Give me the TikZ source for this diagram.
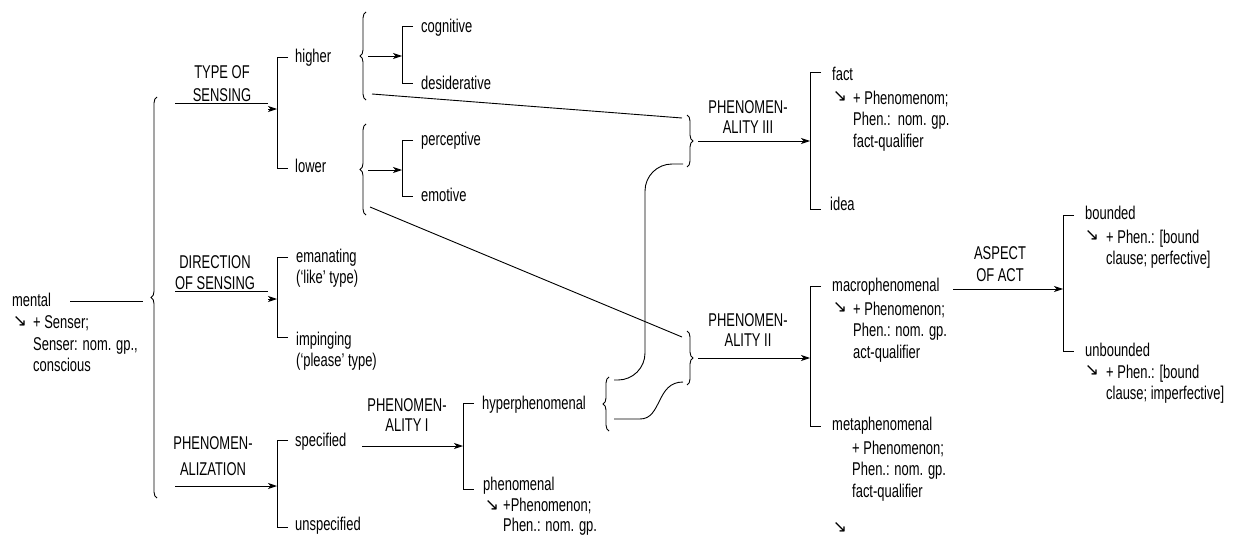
\documentclass[tikz,border=0pt]{standalone}
\usepackage{fontspec}
\setmainfont[FakeStretch=0.7]{Liberation Sans}
\newfontfamily\symfont{DejaVu Sans}
\usetikzlibrary{arrows.meta,decorations.pathreplacing}
\newcommand\fsz{\fontsize{18.5}{21.5}\selectfont}
\tikzset{
 txt/.style={inner sep=0pt, anchor=base west, font=\fsz},
 blk/.style={inner sep=0pt, anchor=north west, align=left, font=\fsz},
 sysn/.style={inner sep=0pt, align=center, font=\fsz},
 ln/.style={line width=0.9pt},
 arr/.style={ln, -{Stealth[length=9pt,width=6pt,inset=2.5pt]}},
 brc/.style={ln, decorate, decoration={brace, amplitude=6pt}},
 sym/.style={inner sep=0pt, font=\symfont\fontsize{17}{17}\selectfont},
 brk/.style={ln},
}
\begin{document}
\begin{tikzpicture}[x=1pt,y=-1pt]
\useasboundingbox (0,0) rectangle (1249,535);

% ---------- texts ----------
\node[txt] (mental) at (12,306.5) {mental};
\node[sym] (amental) at (20,322) {↘};
\node[blk] (mentalsub) at (33,315.5) {+ Senser;\\Senser: nom. gp.,\\conscious};

\node[sysn] (typeof) at (222,83.5) {TYPE OF\\[1.5pt]SENSING};
\node[sysn] (dirsens) at (215,272.5) {DIRECTION\\OF SENSING};
\node[sysn] (phenzn) at (213,456.5) {PHENOMEN-\\[4.5pt]ALIZATION};

\node[txt] (higher) at (295,62.5) {higher};
\node[txt] (lower) at (295,172.5) {lower};
\node[blk] (eman) at (296,248.5) {emanating\\(‘like’ type)};
\node[blk] (imping) at (296,331.5) {impinging\\(‘please’ type)};
\node[txt] (spec) at (295,446.5) {specified};
\node[txt] (unspec) at (295,530.5) {unspecified};

\node[txt] (cog) at (421,32.5) {cognitive};
\node[txt] (desid) at (421,89.5) {desiderative};
\node[txt] (percep) at (421,145.5) {perceptive};
\node[txt] (emot) at (421,201.5) {emotive};

\node[sysn] (ph3) at (748,117) {PHENOMEN-\\[-1.5pt]ALITY III};
\node[txt] (fact) at (832,80.5) {fact};
\node[sym] (afact) at (840,97) {↘};
\node[blk] (factsub) at (853,90.5) {+ Phenomenom;\\Phen.:\ \ nom. gp.\\fact-qualifier};
\node[txt] (idea) at (830,210.5) {idea};

\node[sysn] (ph2) at (748,330) {PHENOMEN-\\[-1.5pt]ALITY II};
\node[txt] (macro) at (832,291.5) {macrophenomenal};
\node[sym] (amacro) at (840,308) {↘};
\node[blk] (macrosub) at (853,301.5) {+ Phenomenon;\\Phen.: nom. gp.\\act-qualifier};
\node[txt] (meta) at (832,430.5) {metaphenomenal};
\node[blk] (metasub) at (852,440.5) {+ Phenomenon;\\Phen.: nom. gp.\\fact-qualifier};
\node[sym] (astray) at (840,527) {↘};

\node[sysn] (ph1) at (407,415) {PHENOMEN-\\[-1.5pt]ALITY I};
\node[txt] (hyper) at (482,409.5) {hyperphenomenal};
\node[txt] (phenl) at (483,490.5) {phenomenal};
\node[sym] (aphen) at (492,506) {↘};
\node[blk] (phensub) at (503,497.5) {+Phenomenon;\\[-1pt]Phen.: nom. gp.};

\node[sysn] (aspect) at (1000,264) {ASPECT\\OF ACT};
\node[txt] (bounded) at (1085,219.5) {bounded};
\node[sym] (abound) at (1092,236) {↘};
\node[blk] (boundsub) at (1106,229.5) {+ Phen.: [bound\\clause; perfective]};
\node[txt] (unbounded) at (1085,356.5) {unbounded};
\node[sym] (aunbound) at (1092,371) {↘};
\node[blk] (unboundsub) at (1106,364.5) {+ Phen.: [bound\\clause; imperfective]};

% ---------- coordinates ----------
\coordinate (m0) at (70,301);
\coordinate (m1) at (143,301);
\coordinate (mbB) at (157,498);
\coordinate (mbT) at (157,97);

\coordinate (t0) at (175,103); \coordinate (t1) at (268,103);
\coordinate (t2) at (268,109); \coordinate (t3) at (277,109);
\coordinate (d0) at (175,291); \coordinate (d1) at (268,291);
\coordinate (d2) at (268,299); \coordinate (d3) at (277,299);
\coordinate (p0) at (175,486); \coordinate (p1) at (277,486);

\coordinate (b1a) at (277,57);  \coordinate (b1b) at (277,168);
\coordinate (b2a) at (277,257); \coordinate (b2b) at (277,337);
\coordinate (b3a) at (277,440); \coordinate (b3b) at (277,527);

\coordinate (hbB) at (366,100); \coordinate (hbT) at (366,12);
\coordinate (lbB) at (366,215); \coordinate (lbT) at (366,124);
\coordinate (h0) at (368,56); \coordinate (h1) at (402,56);
\coordinate (l0) at (368,170); \coordinate (l1) at (402,170);
\coordinate (b4a) at (402,26);  \coordinate (b4b) at (402,83);
\coordinate (b5a) at (402,140); \coordinate (b5b) at (402,196);

\coordinate (hx) at (372,94);  \coordinate (p3t) at (682,118);
\coordinate (lx) at (370,207); \coordinate (p2t) at (682,337);

\coordinate (p3bT) at (687,115); \coordinate (p3bB) at (687,167);
\coordinate (a30) at (698,141); \coordinate (a31) at (810,141);
\coordinate (b6a) at (810,72); \coordinate (b6b) at (810,209);

\coordinate (p2bT) at (687,331); \coordinate (p2bB) at (687,385);
\coordinate (a20) at (698,358); \coordinate (a21) at (810,358);
\coordinate (b7a) at (810,286); \coordinate (b7b) at (810,426);

\coordinate (a10) at (362,446); \coordinate (a11) at (463,446);
\coordinate (b8a) at (463,403); \coordinate (b8b) at (463,489);
\coordinate (ybB) at (609,431); \coordinate (ybT) at (609,377);

\coordinate (c1s) at (614,380); \coordinate (c1m) at (645,380);
\coordinate (c1n) at (645,164); \coordinate (c1e) at (683,164);
\coordinate (c2s) at (614,419); \coordinate (c2m) at (640,419);
\coordinate (c2e) at (683,382);

\coordinate (as0) at (953,289); \coordinate (as1) at (1063,289);
\coordinate (b9a) at (1063,215); \coordinate (b9b) at (1063,351);

% ---------- lines ----------
\draw[ln] (m0) -- (m1);
\draw[brc] (mbB) -- (mbT);

\draw[ln] (t0) -- (t1); \draw[arr] (t2) -- (t3);
\draw[ln] (d0) -- (d1); \draw[arr] (d2) -- (d3);
\draw[arr] (p0) -- (p1);

\foreach \a/\b in {b1a/b1b,b2a/b2b,b3a/b3b,b4a/b4b,b5a/b5b,b6a/b6b,b7a/b7b,b8a/b8b,b9a/b9b}
  \draw[brk] ([xshift=11pt]\a) -- (\a) -- (\b) -- ([xshift=11pt]\b);

\draw[brc] (hbB) -- (hbT);
\draw[brc] (lbB) -- (lbT);
\draw[arr] (h0) -- (h1);
\draw[arr] (l0) -- (l1);

\draw[ln] (hx) -- (p3t);
\draw[ln] (lx) -- (p2t);

\draw[brc] (p3bT) -- (p3bB);
\draw[arr] (a30) -- (a31);
\draw[brc] (p2bT) -- (p2bB);
\draw[arr] (a20) -- (a21);

\draw[arr] (a10) -- (a11);
\draw[brc] (ybB) -- (ybT);

\draw[ln, rounded corners=27pt] (c1s) -- (c1m) -- (c1n) -- (c1e);
\draw[ln] (c2s) -- (c2m) .. controls (662,419) and (656,382) .. (c2e);

\draw[arr] (as0) -- (as1);
\end{tikzpicture}
\end{document}
